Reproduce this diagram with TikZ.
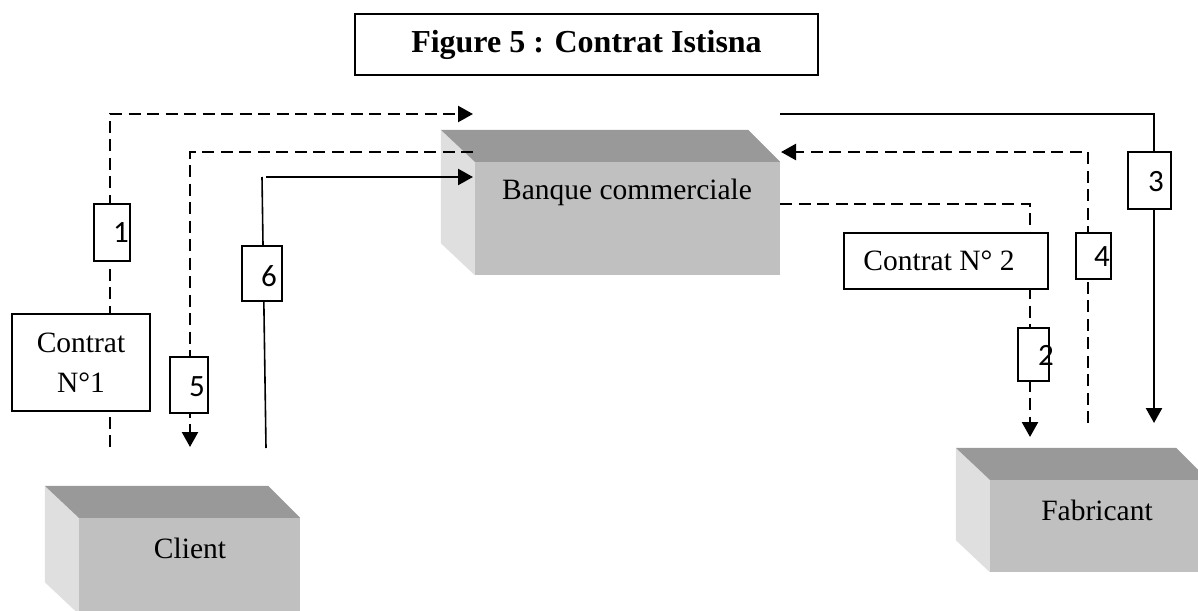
\documentclass[tikz,border=0pt]{standalone}
\usepackage{fontspec}
\setmainfont{Liberation Serif}
\newfontfamily\digitfont{Carlito}
\usetikzlibrary{arrows.meta}
\definecolor{topc}{HTML}{999999}
\definecolor{frontc}{HTML}{C0C0C0}
\definecolor{sidec}{HTML}{DFDFDF}
\begin{document}
\begin{tikzpicture}[x=1pt,y=-1pt,
  conn/.style={line width=2.4pt},
  dsh/.style={conn, dash pattern=on 12pt off 6.5pt},
  tip/.style={-{Triangle[width=16pt,length=15pt]}},
  front/.style={fill=frontc, inner sep=0pt},
  tagbox/.style={draw, line width=2pt, fill=white, inner sep=0pt},
  num/.style={font=\digitfont\fontsize{31}{31}\selectfont, inner sep=0pt},
  lbl/.style={font=\fontsize{29.5}{40}\selectfont, align=center, inner sep=0pt},
]
\useasboundingbox (0,0) rectangle (1198,610);

% three-dimensional blocks: front face as a node, top and side faces behind it
\newcommand\solidblock[1]{%
  \fill[sidec] ([shift={(-34,-32)}]#1.north west) -- (#1.north west)
     -- (#1.south west) -- ([shift={(-34,-32)}]#1.south west) -- cycle;
  \fill[topc] ([shift={(-34,-32)}]#1.north west) -- ([shift={(-32,-32)}]#1.north east)
     -- (#1.north east) -- (#1.north west) -- cycle;
}

\node[front, minimum width=305pt, minimum height=113pt] (bank) at (627.5,218.5) {};
\solidblock{bank}
\node[front, minimum width=221pt, minimum height=96pt] (client) at (189.5,566) {};
\solidblock{client}
\node[front, minimum width=218pt, minimum height=92pt] (fab) at (1099,526) {};
\solidblock{fab}

\node[lbl] (bankt) at (627,192) {Banque commerciale};
\node[lbl] (clientt) at (190,548) {Client};
\node[lbl] (fabt) at (1097,510) {Fabricant};

% title
\node[draw, line width=2.2pt, minimum width=463pt, minimum height=61pt,
      font=\bfseries\fontsize{32}{32}\selectfont] (title) at (586.5,44.5) {Figure 5 : Contrat Istisna};

% free ends of the flows
\coordinate (c1s) at (110,447);
\coordinate (c1e) at (473,114);
\coordinate (c5s) at (473,152);
\coordinate (c5e) at (190,447);
\coordinate (c6s) at (266,448);
\coordinate (c6k) at (262,177);
\coordinate (c6h) at (266,177);
\coordinate (c6e) at (473,177);
\coordinate (c3s) at (780,114);
\coordinate (c3e) at (1154,423);
\coordinate (c4s) at (1088,423);
\coordinate (c4e) at (781,152);
\coordinate (c2s) at (780,204);
\coordinate (c2e) at (1030,437);

% flows
\draw[dsh,tip] (c1s) |- (c1e);
\draw[dsh,tip] (c5s) -| (c5e);
\draw[line width=1.6pt] (c6s) -- (c6k);
\draw[conn,tip] (c6h) -- (c6e);
\draw[conn,tip] (c3s) -| (c3e);
\draw[dsh,tip] (c4s) |- (c4e);
\draw[dsh,tip] (c2s) -| (c2e);

% labels on the flows
\node[tagbox, minimum width=36pt, minimum height=57pt] (t1) at (112,232.5) {};
\node[num] (n1) at (121,233) {1};
\node[tagbox, minimum width=138pt, minimum height=97pt, lbl] (k1) at (81,362.5) {Contrat\\N°1};
\node[tagbox, minimum width=38pt, minimum height=56pt] (t5) at (189,385) {};
\node[num] (n5) at (197,387) {5};
\node[tagbox, minimum width=40pt, minimum height=55pt] (t6) at (262,273.5) {};
\node[num] (n6) at (269,276) {6};
\node[tagbox, minimum width=43pt, minimum height=57pt] (t3) at (1149.5,180.5) {};
\node[num] (n3) at (1156,182) {3};
\node[tagbox, minimum width=35pt, minimum height=46pt] (t4) at (1093.5,256) {};
\node[num] (n4) at (1102,257) {4};
\node[tagbox, minimum width=204pt, minimum height=56pt, lbl] (k2) at (946,261) {Contrat N° 2\hspace*{14pt}};
\node[tagbox, minimum width=31pt, minimum height=53pt] (t2) at (1033.5,354.5) {};
\node[num] (n2) at (1046,355) {2};
\end{tikzpicture}
\end{document}
